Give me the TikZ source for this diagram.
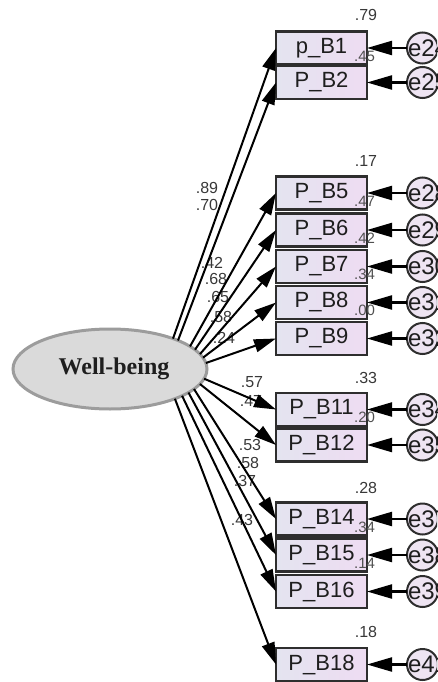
\documentclass[tikz,border=0pt]{standalone}
\usepackage{fontspec}
\setmainfont{Liberation Sans}
\newfontfamily\latfont{Liberation Serif}
\usetikzlibrary{arrows.meta,shapes.geometric,calc}
\definecolor{boxL}{HTML}{E4E4F0}
\definecolor{boxR}{HTML}{EEDCF2}
\definecolor{boxline}{HTML}{2E2E2E}
\definecolor{errfill}{HTML}{EEE4F2}
\definecolor{latfill}{HTML}{DADADA}
\definecolor{latline}{HTML}{9C9C9C}
\definecolor{txt}{HTML}{1E1E1E}
\definecolor{lab}{HTML}{383838}
\definecolor{labtwo}{HTML}{505050}
\tikzset{
  obs/.style={draw=boxline, line width=2.2pt, left color=boxL, right color=boxR,
    minimum width=91pt, minimum height=33pt, inner sep=0pt, outer sep=0pt,
    font=\fontsize{22}{22}\selectfont, text=txt},
  err/.style={circle, draw=boxline, line width=2pt, fill=errfill, minimum size=31pt,
    inner sep=0pt, outer sep=0pt, font=\fontsize{24}{24}\selectfont, text=txt},
  lat/.style={ellipse, draw=latline, line width=3pt, fill=latfill, minimum width=194pt,
    minimum height=80pt, inner sep=0pt, outer sep=0pt,
    font=\latfont\bfseries\fontsize{24}{24}\selectfont, text=txt},
  coef/.style={font=\fontsize{16}{16}\selectfont, text=lab, inner sep=0pt},
  rsq/.style={font=\fontsize{16}{16}\selectfont, text=lab, inner sep=0pt},
  inr/.style={font=\fontsize{15}{15}\selectfont, text=labtwo, inner sep=0pt, anchor=west},
  fan/.style={-{Triangle[length=22pt,width=13pt]}, line width=2pt, draw=black},
  epath/.style={-{Triangle[length=25pt,width=14pt]}, line width=2.2pt, draw=black},
}
\newcommand{\etext}[1]{\makebox[0pt][l]{\hspace{-14.5pt}#1}}
\begin{document}
\begin{tikzpicture}[x=1pt,y=-1pt]
\useasboundingbox (0,0) rectangle (437,682);
\clip (0,0) rectangle (437,682);
% latent
\node[lat] (W) at (110,369) {\hspace{8pt}Well-being};
% observed boxes
\node[obs] (b1)  at (321.5,48)    {p\_B1};
\node[obs] (b2)  at (321.5,82.5)  {P\_B2};
\node[obs] (b5)  at (321.5,193)   {P\_B5};
\node[obs] (b6)  at (321.5,230)   {P\_B6};
\node[obs] (b7)  at (321.5,266.5) {P\_B7};
\node[obs] (b8)  at (321.5,302.5) {P\_B8};
\node[obs] (b9)  at (321.5,338.5) {P\_B9};
\node[obs] (b11) at (321.5,409.5) {P\_B11};
\node[obs] (b12) at (321.5,445)   {P\_B12};
\node[obs] (b14) at (321.5,519)   {P\_B14};
\node[obs] (b15) at (321.5,555)   {P\_B15};
\node[obs] (b16) at (321.5,591.5) {P\_B16};
\node[obs] (b18) at (321.5,664.5) {P\_B18};
% error circles
\node[err] (e24) at (422.5,48)    {\etext{e24}};
\node[err] (e25) at (422.5,82.5)  {\etext{e25}};
\node[err] (e28) at (422.5,193)   {\etext{e28}};
\node[err] (e29) at (422.5,230)   {\etext{e29}};
\node[err] (e30) at (422.5,266.5) {\etext{e30}};
\node[err] (e31) at (422.5,302.5) {\etext{e31}};
\node[err] (e32) at (422.5,338.5) {\etext{e32}};
\node[err] (e34) at (422.5,409.5) {\etext{e34}};
\node[err] (e35) at (422.5,445)   {\etext{e35}};
\node[err] (e37) at (422.5,519)   {\etext{e37}};
\node[err] (e38) at (422.5,555)   {\etext{e38}};
\node[err] (e39) at (422.5,591.5) {\etext{e39}};
\node[err] (e41) at (422.5,664.5) {\etext{e41}};
% squared multiple correlations above boxes
\node[rsq] (r1)  at (366,15)  {.79};
\node[rsq] (r5)  at (366,161) {.17};
\node[rsq] (r11) at (366,378) {.33};
\node[rsq] (r14) at (366,488) {.28};
\node[rsq] (r18) at (366,632) {.18};
% inner labels
\node[inr] (i1)  at (354,56)    {.45};
\node[inr] (i5)  at (354,201)   {.47};
\node[inr] (i6)  at (354,238)   {.42};
\node[inr] (i7)  at (354,274.5) {.34};
\node[inr] (i8)  at (354,310.5) {.00};
\node[inr] (i11) at (354,417.5) {.20};
\node[inr] (i14) at (354,527)   {.34};
\node[inr] (i15) at (354,563)   {.14};
% loadings
\node[coef] (c1)  at (207,188) {.89};
\node[coef] (c2)  at (207,205) {.70};
\node[coef] (c5)  at (212,263) {.42};
\node[coef] (c6)  at (216,279) {.68};
\node[coef] (c7)  at (218,297) {.65};
\node[coef] (c8)  at (221,317) {.58};
\node[coef] (c9)  at (224,338) {.24};
\node[coef] (c11) at (252,382) {.57};
\node[coef] (c12) at (251,401) {.47};
\node[coef] (c14) at (250,445) {.53};
\node[coef] (c15) at (248,463) {.58};
\node[coef] (c16) at (245,481) {.37};
\node[coef] (c18) at (242,520) {.43};
% start points on the ellipse
\foreach \n/\t in {s1/49.5,s2/45.5,s5/34.4,s6/28.8,s7/21.9,s8/16.5,s9/8.6,
                   s11/-14,s12/-22,s14/-30,s15/-36,s16/-42,s18/-48}
  \coordinate (\n) at ($(W.center)+({97*cos(\t)},{-40*sin(\t)})$);
% loading arrows
\draw[fan] (s1)  -- (b1.west);
\draw[fan] (s2)  -- (b2.west);
\draw[fan] (s5)  -- (b5.west);
\draw[fan] (s6)  -- (b6.west);
\draw[fan] (s7)  -- (b7.west);
\draw[fan] (s8)  -- (b8.west);
\draw[fan] (s9)  -- (b9.west);
\draw[fan] (s11) -- (b11.west);
\draw[fan] (s12) -- (b12.west);
\draw[fan] (s14) -- (b14.west);
\draw[fan] (s15) -- (b15.west);
\draw[fan] (s16) -- (b16.west);
\draw[fan] (s18) -- (b18.west);
% error arrows
\draw[epath] (e24) -- (b1.east);
\draw[epath] (e25) -- (b2.east);
\draw[epath] (e28) -- (b5.east);
\draw[epath] (e29) -- (b6.east);
\draw[epath] (e30) -- (b7.east);
\draw[epath] (e31) -- (b8.east);
\draw[epath] (e32) -- (b9.east);
\draw[epath] (e34) -- (b11.east);
\draw[epath] (e35) -- (b12.east);
\draw[epath] (e37) -- (b14.east);
\draw[epath] (e38) -- (b15.east);
\draw[epath] (e39) -- (b16.east);
\draw[epath] (e41) -- (b18.east);
\end{tikzpicture}
\end{document}
